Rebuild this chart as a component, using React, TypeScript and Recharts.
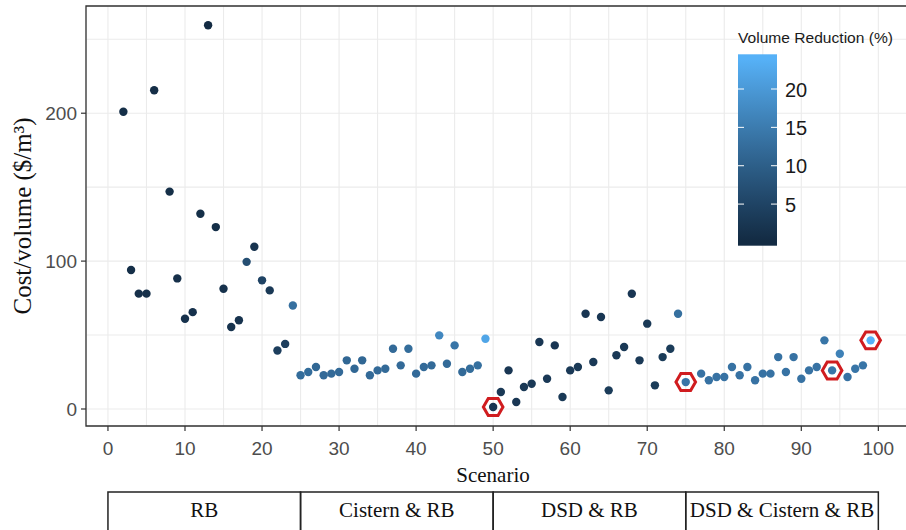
import React from 'react';
import { ScatterChart, Scatter, XAxis, YAxis, CartesianGrid, ReferenceArea } from 'recharts';

// Scenario number, cost per volume ($/m3) and volume reduction (%)
const scenario = [
  2, 3, 4, 5, 6, 8, 9, 10, 11, 12, 13, 14, 15, 16, 17, 18, 19, 20, 21, 22, 23, 24,
  25, 26, 27, 28, 29, 30, 31, 32, 33, 34, 35, 36, 37, 38, 39, 40, 41, 42, 43, 44, 45, 46, 47, 48, 49,
  50, 51, 52, 53, 54, 55, 56, 57, 58, 59, 60, 61, 62, 63, 64, 65, 66, 67, 68, 69, 70, 71, 72, 73, 74,
  75, 77, 78, 79, 80, 81, 82, 83, 84, 85, 86, 87, 88, 89, 90, 91, 92, 93, 94, 95, 96, 97, 98, 99,
];
const cost = [
  201, 94, 78, 78, 215.5, 147, 88.3, 61, 65.5, 132, 259.5, 123, 81.3, 55.4, 60, 99.5, 109.7, 87, 80.2, 39.6, 44, 70,
  22.8, 25, 28.4, 22.8, 23.9, 25, 32.9, 27.2, 32.9, 22.8, 26.1, 27.2, 40.7, 29.5, 40.7, 23.9, 28.4, 29.5, 49.8, 30.6, 43, 25, 27.2, 29.5, 47.5,
  1.35, 11.5, 26.1, 4.7, 14.9, 17.1, 45.3, 20.5, 43, 8.1, 26.1, 28.4, 64.4, 31.8, 62.2, 12.6, 36.3, 41.9, 77.9, 32.9, 57.7, 16, 35.1, 40.7, 64.4,
  18.2, 23.9, 19.4, 21.6, 21.6, 28.4, 22.8, 28.4, 19.4, 23.9, 23.9, 35.1, 25, 35.1, 20.5, 26.1, 28.4, 46.4, 26.1, 37.4, 21.6, 27.2, 29.5, 46.4,
];
const reduction = [
  1, 1, 1.2, 1.2, 0.8, 1, 1.3, 1.5, 1.5, 1, 0.2, 1, 1.5, 1.8, 1.8, 7, 2, 5, 3, 4, 4, 13,
  12.5, 12.5, 11.5, 12, 12, 12, 11.5, 11.5, 11.5, 12, 12, 12, 12, 12, 12.5, 12, 12, 12, 17, 12, 14, 12, 12.5, 13, 22,
  2.5, 3, 2.5, 2.5, 3, 3, 2.5, 3, 2.5, 3, 3, 3, 2.5, 3, 2.5, 3.5, 3, 3, 2.5, 3, 3, 3.5, 3.5, 3.5, 13,
  14, 13.5, 13.5, 13.5, 13.5, 13.5, 13.5, 13.5, 13.5, 13.5, 13.5, 13.5, 13.5, 13.5, 13.5, 13.5, 13.5, 14, 14, 16, 13.5, 14, 14, 23.9,
];
const highlighted = [50, 75, 94, 99];

const xTicks = [0, 5, 10, 15, 20, 25, 30, 35, 40, 45, 50, 55, 60, 65, 70, 75, 80, 85, 90, 95, 100];
const xLabelTicks = [0, 10, 20, 30, 40, 50, 60, 70, 80, 90, 100];
const yTicks = [0, 50, 100, 150, 200, 250];
const yLabelTicks = [0, 100, 200];
const legendTicks = [5, 10, 15, 20];
const groupNames = ['RB', 'Cistern & RB', 'DSD & RB', 'DSD & Cistern & RB'];
const groupBounds = [0, 25, 50, 75, 100];

const X_DOMAIN: [number, number] = [-2.85, 103.85];
const Y_DOMAIN: [number, number] = [-11.5, 272.5];

const points = scenario.map((s, i) => ({ scenario: s, cost: cost[i], vr: reduction[i] }));
const highlightPts = points.filter((p) => highlighted.includes(p.scenario));
const groupCenters = groupNames.map((_, i) => (groupBounds[i] + groupBounds[i + 1]) / 2);

// ggplot-like gradient, interpolated in Lab space
const LOW = '#132B43';
const HIGH = '#56B1F7';
const toLin = (c: number) => (c <= 0.04045 ? c / 12.92 : Math.pow((c + 0.055) / 1.055, 2.4));
const fromLin = (c: number) => (c <= 0.0031308 ? 12.92 * c : 1.055 * Math.pow(c, 1 / 2.4) - 0.055);
const WHITE = [0.95047, 1, 1.08883];
const hexToLab = (hex: string) => {
  const r = toLin(parseInt(hex.slice(1, 3), 16) / 255);
  const g = toLin(parseInt(hex.slice(3, 5), 16) / 255);
  const b = toLin(parseInt(hex.slice(5, 7), 16) / 255);
  const xyz = [
    (0.4124 * r + 0.3576 * g + 0.1805 * b) / WHITE[0],
    (0.2126 * r + 0.7152 * g + 0.0722 * b) / WHITE[1],
    (0.0193 * r + 0.1192 * g + 0.9505 * b) / WHITE[2],
  ].map((t) => (t > 0.008856 ? Math.cbrt(t) : 7.787 * t + 16 / 116));
  return [116 * xyz[1] - 16, 500 * (xyz[0] - xyz[1]), 200 * (xyz[1] - xyz[2])];
};
const labToHex = (lab: number[]) => {
  const fy = (lab[0] + 16) / 116;
  const fx = fy + lab[1] / 500;
  const fz = fy - lab[2] / 200;
  const inv = (f: number) => (f * f * f > 0.008856 ? f * f * f : (f - 16 / 116) / 7.787);
  const x = inv(fx) * WHITE[0];
  const y = inv(fy) * WHITE[1];
  const z = inv(fz) * WHITE[2];
  const rgb = [
    3.2406 * x - 1.5372 * y - 0.4986 * z,
    -0.9689 * x + 1.8758 * y + 0.0415 * z,
    0.0557 * x - 0.204 * y + 1.057 * z,
  ];
  return (
    '#' +
    rgb
      .map((c) => Math.round(Math.min(1, Math.max(0, fromLin(c))) * 255).toString(16).padStart(2, '0'))
      .join('')
  );
};
const lowLab = hexToLab(LOW);
const highLab = hexToLab(HIGH);
const VR_MIN = Math.min(...reduction);
const VR_MAX = Math.max(...reduction);
const colorOf = (v: number) => {
  const t = Math.min(1, Math.max(0, (v - VR_MIN) / (VR_MAX - VR_MIN)));
  return labToHex(lowLab.map((l, i) => l + (highLab[i] - l) * t));
};

const sans = '"Liberation Sans", Arial, sans-serif';
const serif = '"Liberation Serif", "Times New Roman", serif';

const DotShape = (props: any) => (
  <circle cx={props.cx} cy={props.cy} r={4.2} fill={colorOf(props.payload.vr)} />
);

const HexShape = (props: any) => {
  const R = 9.8;
  const pts = [0, 60, 120, 180, 240, 300]
    .map((a) => {
      const rad = (a * Math.PI) / 180;
      return `${props.cx + R * Math.cos(rad)},${props.cy + R * Math.sin(rad)}`;
    })
    .join(' ');
  return <polygon points={pts} fill="none" stroke="#D01C1F" strokeWidth={3} />;
};

const XTick = (props: any) => {
  const { x, y, payload } = props;
  if (!xLabelTicks.includes(payload.value)) return <g />;
  return (
    <g>
      <line x1={x} x2={x} y1={y} y2={y + 5} stroke="#333" strokeWidth={1.2} />
      <text x={x} y={y + 29} textAnchor="middle" fontFamily={sans} fontSize={19} fill="#4D4D4D">
        {payload.value}
      </text>
    </g>
  );
};

const YTick = (props: any) => {
  const { x, y, payload } = props;
  if (!yLabelTicks.includes(payload.value)) return <g />;
  return (
    <g>
      <line x1={x - 5} x2={x} y1={y} y2={y} stroke="#333" strokeWidth={1.2} />
      <text x={x - 9} y={y + 6.8} textAnchor="end" fontFamily={sans} fontSize={19} fill="#4D4D4D">
        {payload.value}
      </text>
    </g>
  );
};

const GroupTick = (props: any) => {
  const { x, y, payload, index, width } = props;
  const pxPerUnit = (width || 822) / (X_DOMAIN[1] - X_DOMAIN[0]);
  const i = index ?? groupCenters.indexOf(payload.value);
  const x1 = x - ((payload.value - groupBounds[i]) * pxPerUnit);
  const x2 = x + ((groupBounds[i + 1] - payload.value) * pxPerUnit);
  return (
    <g>
      <rect x={x1} y={y} width={x2 - x1} height={60} fill="none" stroke="#222" strokeWidth={1.5} />
      <text x={x} y={y + 25} textAnchor="middle" fontFamily={serif} fontSize={21} fill="#111">
        {groupNames[i]}
      </text>
    </g>
  );
};

// Colour bar legend, placed inside the panel at the top right
const BAR = { x: 738, y: 54.3, w: 39, h: 191.4 };
const ColorLegend = () => {
  const ext = (VR_MAX - VR_MIN) / 38;
  const lo = VR_MIN - ext;
  const hi = VR_MAX + ext;
  const yOf = (v: number) => BAR.y + ((hi - v) / (hi - lo)) * BAR.h;
  const stops = Array.from({ length: 11 }, (_, k) => VR_MAX - ((VR_MAX - VR_MIN) * k) / 10);
  return (
    <svg
      width={906}
      height={530}
      style={{ position: 'absolute', left: 0, top: 0, pointerEvents: 'none' }}
    >
      <defs>
        <linearGradient id="vrGrad" x1="0" y1="0" x2="0" y2="1">
          {stops.map((v) => (
            <stop key={v} offset={(yOf(v) - BAR.y) / BAR.h} stopColor={colorOf(v)} />
          ))}
        </linearGradient>
      </defs>
      <text x={738} y={43} fontFamily={sans} fontSize={14} fill="#1A1A1A" textLength={155} lengthAdjust="spacingAndGlyphs">
        Volume Reduction (%)
      </text>
      <rect x={BAR.x} y={BAR.y} width={BAR.w} height={BAR.h} fill="url(#vrGrad)" />
      {legendTicks.map((v) => (
        <g key={v}>
          <line x1={BAR.x} x2={BAR.x + 6} y1={yOf(v)} y2={yOf(v)} stroke="#fff" strokeWidth={1} />
          <line x1={BAR.x + BAR.w - 6} x2={BAR.x + BAR.w} y1={yOf(v)} y2={yOf(v)} stroke="#fff" strokeWidth={1} />
          <text x={785} y={yOf(v) + 7.5} fontFamily={sans} fontSize={20} fill="#1A1A1A">
            {v}
          </text>
        </g>
      ))}
    </svg>
  );
};

export default function App() {
  return (
    <div
      style={{
        position: 'absolute',
        left: 0,
        top: 0,
        width: 906,
        height: 530,
        overflow: 'hidden',
        background: '#fff',
      }}
    >
      <ScatterChart width={920} height={530} margin={{ top: 6, right: 12, left: 0, bottom: 0 }}>
        <CartesianGrid stroke="#EBEBEB" strokeWidth={1.1} />
        <XAxis
          type="number"
          dataKey="scenario"
          domain={X_DOMAIN}
          ticks={xTicks}
          interval={0}
          allowDataOverflow
          axisLine={false}
          tickLine={false}
          tickSize={0}
          tickMargin={0}
          tick={<XTick />}
          height={66}
          label={{
            value: 'Scenario',
            position: 'insideBottom',
            offset: 10,
            dx: -4,
            style: { fontFamily: serif, fontSize: 21, fill: '#111' },
          }}
        />
        <XAxis
          xAxisId="grp"
          type="number"
          dataKey="scenario"
          domain={X_DOMAIN}
          ticks={groupCenters}
          interval={0}
          allowDataOverflow
          axisLine={false}
          tickLine={false}
          tickSize={0}
          tickMargin={0}
          tick={<GroupTick />}
          height={38}
        />
        <YAxis
          type="number"
          dataKey="cost"
          domain={Y_DOMAIN}
          ticks={yTicks}
          interval={0}
          allowDataOverflow
          axisLine={false}
          tickLine={false}
          tickSize={0}
          tickMargin={0}
          tick={<YTick />}
          width={86}
          label={{
            value: 'Cost/volume ($/m³)',
            angle: -90,
            position: 'insideLeft',
            offset: 22,
            style: { fontFamily: serif, fontSize: 25, fill: '#111', textAnchor: 'middle' },
          }}
        />
        <ReferenceArea
          x1={X_DOMAIN[0]}
          x2={X_DOMAIN[1]}
          y1={Y_DOMAIN[0]}
          y2={Y_DOMAIN[1]}
          fill="none"
          stroke="#333"
          strokeWidth={1.3}
          ifOverflow="visible"
        />
        <Scatter data={points} dataKey="cost" shape={DotShape} isAnimationActive={false} />
        <Scatter data={highlightPts} dataKey="cost" shape={HexShape} isAnimationActive={false} />
      </ScatterChart>
      <ColorLegend />
    </div>
  );
}
